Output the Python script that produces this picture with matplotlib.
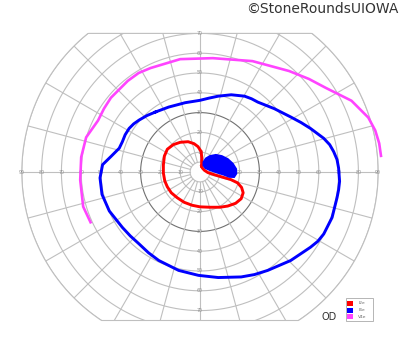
import matplotlib.pyplot as plt
import numpy as np
from matplotlib.patches import Polygon, Rectangle

# chart grid (degrees of visual field)
ring_degrees = [5, 10, 20, 30, 40, 50, 60, 70, 80, 90]
bold_ring = 30
meridian_step = 15
horizontal_labels = [10, 20, 30, 40, 50, 60, 70, 80, 90]
vertical_labels = [10, 20, 30, 40, 50, 60, 70]
top_limit = 70
bottom_limit = 75

series_names = ["I2e", "I4e", "V4e"]
series_colors = ["#ff0000", "#0000ff", "#ff44ff"]

# I2e isopter (closed)
i2e_x = [0.8, 0.9, 0.6, -1.0, -3.0, -6.0, -10.0, -13.5, -16.5, -18.0, -18.5, -18.5,
         -17.8, -16.5, -14.5, -11.5, -8.0, -4.0, 0.0, 5.0, 10.0, 14.0, 18.0, 20.8,
         21.8, 21.0, 19.0, 15.5, 11.0, 7.0, 4.0, 2.3, 1.2]
i2e_y = [3.0, 7.0, 10.3, 12.8, 14.3, 15.3, 15.0, 13.8, 11.5, 8.0, 3.5, -0.5,
         -4.5, -7.5, -10.5, -13.0, -15.3, -16.8, -17.6, -17.8, -17.8, -17.2, -15.8, -13.5,
         -10.5, -7.8, -5.5, -3.8, -2.5, -1.3, -0.3, 0.8, 2.0]

# I4e isopter (closed)
i4e_x = [-22.5, -15.8, -7.5, 0.0, 4.5, 9.2, 15.8, 22.5, 26.0, 29.2, 37.5, 45.8, 51.0,
         55.8, 62.5, 65.5, 67.5, 69.2, 70.0, 70.5, 70.0, 69.2, 66.7, 62.5, 59.5, 55.8,
         45.8, 34.2, 27.5, 20.8, 9.2, -0.8, -10.8, -20.8, -26.0, -30.8, -35.2, -39.2,
         -45.8, -49.5, -50.5, -49.2, -45.0, -40.8, -39.2, -37.8, -35.8, -33.5, -30.8, -26.8]
i4e_y = [30.3, 32.8, 35.0, 36.2, 37.3, 38.3, 39.0, 38.3, 37.0, 35.3, 32.0, 27.8, 25.0,
         22.0, 17.0, 13.8, 10.3, 6.3, 2.0, -4.7, -9.0, -13.0, -23.0, -31.3, -35.0, -38.0,
         -44.7, -49.7, -51.8, -53.0, -53.3, -52.2, -49.7, -44.7, -40.8, -36.3, -32.3, -28.0,
         -19.7, -11.3, -3.0, 3.7, 7.8, 12.0, 15.3, 18.8, 22.0, 24.3, 26.2, 28.5]

# I4e blind spot (filled)
spot_x = [1.8, 3.0, 5.0, 8.0, 11.0, 14.0, 16.5, 18.2, 18.3, 17.2, 14.8, 12.0, 8.5, 5.0, 2.8, 1.8]
spot_y = [5.0, 6.8, 8.0, 8.6, 8.0, 6.5, 4.2, 1.5, -0.8, -2.5, -2.4, -1.3, -0.2, 1.0, 2.0, 3.3]

# V4e isopter (open)
v4e_x = [-55.0, -59.0, -60.5, -60.0, -57.5, -51.5, -48.5, -45.0, -36.5, -31.0, -25.0, -10.0,
         6.5, 26.5, 45.0, 55.0, 63.5, 76.5, 85.0, 88.5, 90.5, 91.5]
v4e_y = [-26.0, -17.5, -4.0, 7.5, 17.5, 26.0, 32.0, 37.5, 46.0, 50.0, 52.5, 57.0,
         57.5, 56.0, 51.0, 47.0, 42.5, 36.0, 27.5, 21.0, 14.5, 7.5]

W, H = 400, 352
fig = plt.figure(figsize=(W / 100, H / 100), dpi=100)
ax = fig.add_axes([0, 0, 1, 1])
scale = 1.98
ax.set_xlim(-200 / scale, 200 / scale)
ax.set_ylim(-(H - 172) / scale, 172 / scale)
ax.axis('off')

grid_color = '#bfbfbf'
t = np.linspace(0, 2 * np.pi, 721)
bx = 90 * np.cos(t)
by = np.clip(90 * np.sin(t), -bottom_limit, top_limit)
region = Polygon(np.column_stack([bx, by]), closed=True, facecolor='none',
                 edgecolor='none', transform=ax.transData)
ax.add_patch(region)

for r in ring_degrees:
    if r == bold_ring:
        line, = ax.plot(r * np.cos(t), r * np.sin(t), color='#707070', lw=0.8)
    else:
        line, = ax.plot(r * np.cos(t), r * np.sin(t), color=grid_color, lw=0.8)
    line.set_clip_path(region)

for a in np.radians(np.arange(0, 360, meridian_step)):
    line, = ax.plot([5 * np.cos(a), 90 * np.cos(a)], [5 * np.sin(a), 90 * np.sin(a)],
                    color=grid_color, lw=0.8)
    line.set_clip_path(region)

ax.plot(bx, by, color=grid_color, lw=0.8)

for v in horizontal_labels:
    for s in (-1, 1):
        ax.text(s * v, 0, str(v), fontsize=3.4, color='#909090', ha='center', va='center')
for v in vertical_labels:
    for s in (-1, 1):
        ax.text(0, s * v, str(v), fontsize=3.4, color='#909090', ha='center', va='center')

ax.plot(i2e_x + i2e_x[:1], i2e_y + i2e_y[:1], color=series_colors[0], lw=2.1,
        solid_joinstyle='round', zorder=3)
ax.plot(i4e_x + i4e_x[:1], i4e_y + i4e_y[:1], color=series_colors[1], lw=2.1,
        solid_joinstyle='round', zorder=3)
ax.fill(spot_x, spot_y, color=series_colors[1], lw=1.5, zorder=3)
ax.plot(v4e_x, v4e_y, color=series_colors[2], lw=1.9, solid_joinstyle='round',
        solid_capstyle='butt', zorder=3)


def fx(px):
    return px / W


def fy(py):
    return 1 - py / H


fig.text(fx(398), fy(9), '\u00a9StoneRoundsUIOWA', fontsize=10, color='#333333',
         ha='right', va='center')
fig.text(fx(329), fy(317), 'OD', fontsize=7, color='#333333', ha='center', va='center')

fig.patches.append(Rectangle((fx(345.7), fy(320.7)), fx(27), 22.4 / H,
                             transform=fig.transFigure, facecolor='white',
                             edgecolor='#aaaaaa', lw=0.6))
for i, (name, c) in enumerate(zip(series_names, series_colors)):
    top = 300.7 + i * 6.8
    fig.patches.append(Rectangle((fx(346.7), fy(top + 5)), fx(6), 5 / H,
                                 transform=fig.transFigure, facecolor=c, edgecolor='none'))
    fig.text(fx(358.3), fy(top + 2.5), name, fontsize=3.2, color='#666666',
             ha='left', va='center')

fig.savefig('out.png', dpi=100)
